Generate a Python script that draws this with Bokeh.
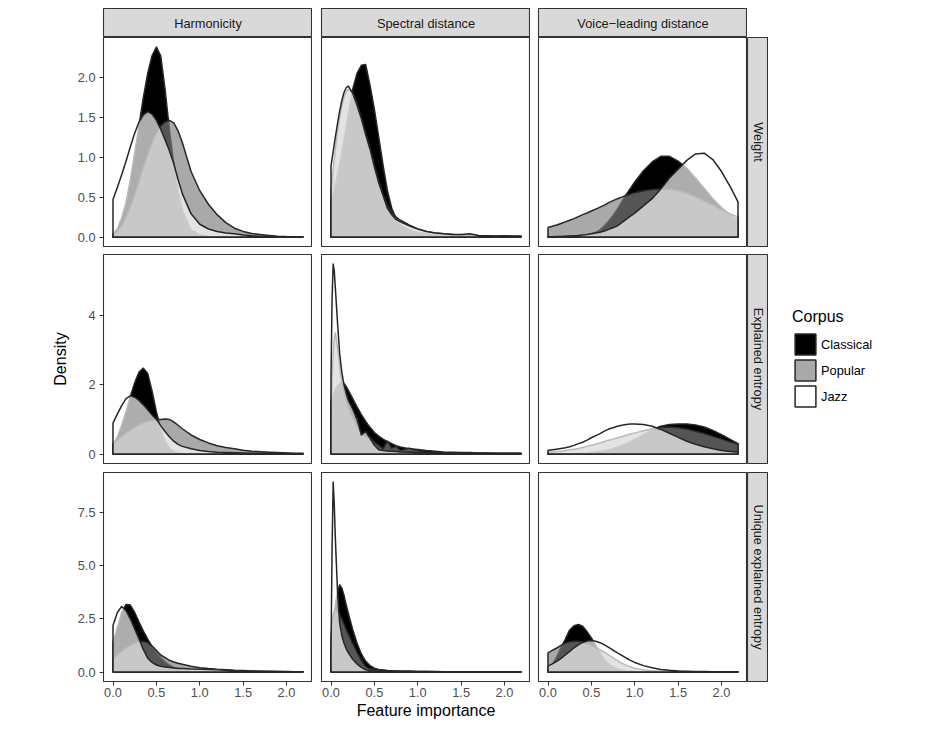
import math
from bokeh.plotting import figure
from bokeh.models import Range1d, FixedTicker, NumeralTickFormatter, Legend, LegendItem
from bokeh.layouts import row, column
from bokeh.embed import file_html
from bokeh.resources import INLINE
from bokeh.core.properties import value

# ---------------- data ----------------
COLUMN_LABELS = ["Harmonicity", "Spectral distance", "Voice\u2212leading distance"]
ROW_LABELS = ["Weight", "Explained entropy", "Unique explained entropy"]
CORPORA = ["Classical", "Popular", "Jazz"]
X_TICKS = [0.0, 0.5, 1.0, 1.5, 2.0]
Y_TICKS_WEIGHT = [0.0, 0.5, 1.0, 1.5, 2.0]
Y_TICKS_EXPLAINED = [0, 2, 4]
Y_TICKS_UNIQUE = [0.0, 2.5, 5.0, 7.5]
X_LABEL = "Feature importance"
Y_LABEL = "Density"
LEGEND_TITLE = "Corpus"

# evaluation grids (feature importance) for each column
X_HARM = [0.0, 0.05, 0.1, 0.15, 0.2, 0.25, 0.3, 0.35, 0.4, 0.45, 0.5, 0.55, 0.6, 0.65, 0.7, 0.75, 0.8,
          0.9, 1.0, 1.1, 1.2, 1.3, 1.4, 1.5, 1.6, 1.7, 1.8, 1.9, 2.0, 2.1, 2.19]
X_SPEC = [0.0, 0.0125, 0.025, 0.0375, 0.05, 0.075, 0.1, 0.125, 0.15, 0.175, 0.2,
          0.25, 0.3, 0.35, 0.4, 0.45, 0.5, 0.55, 0.6, 0.65, 0.7, 0.75, 0.8,
          0.9, 1.0, 1.1, 1.2, 1.3, 1.4, 1.5, 1.6, 1.7, 1.8, 1.9, 2.0, 2.1, 2.19]
X_VL = [0.0, 0.05, 0.1, 0.15, 0.2, 0.25, 0.3, 0.35, 0.4, 0.45, 0.5, 0.55, 0.6, 0.65, 0.7, 0.75, 0.8,
        0.85, 0.9, 0.95, 1.0, 1.1, 1.2, 1.3, 1.4, 1.5, 1.6, 1.7, 1.8, 1.9, 2.0, 2.1, 2.19]

# Weight row
HW_CLASSICAL = [0.04, 0.1, 0.24, 0.43, 0.72, 1.05, 1.4, 1.75, 2.05, 2.27, 2.38, 2.27, 1.85, 1.35, 0.93, 0.58, 0.34,
                0.09, 0.03, 0.01, 0.0, 0.0, 0.0, 0.0, 0.0, 0.0, 0.0, 0.0, 0.0, 0.0, 0.0]
HW_POPULAR = [0.03, 0.07, 0.14, 0.25, 0.38, 0.53, 0.7, 0.87, 1.03, 1.18, 1.3, 1.39, 1.44, 1.46, 1.43, 1.33, 1.18,
              0.82, 0.58, 0.41, 0.28, 0.18, 0.11, 0.07, 0.045, 0.03, 0.02, 0.01, 0.005, 0.003, 0.002]
HW_JAZZ = [0.47, 0.62, 0.78, 0.95, 1.13, 1.3, 1.44, 1.53, 1.57, 1.54, 1.46, 1.35, 1.22, 1.08, 0.92, 0.72, 0.54,
           0.29, 0.16, 0.1, 0.07, 0.05, 0.04, 0.025, 0.015, 0.01, 0.005, 0.0, 0.0, 0.0, 0.0]
SW_CLASSICAL = [0.45, 0.5, 0.55, 0.6, 0.66, 0.78, 0.92, 1.07, 1.22, 1.38, 1.55,
                1.85, 2.05, 2.15, 2.16, 1.9, 1.6, 1.25, 0.9, 0.58, 0.36, 0.23, 0.15,
                0.09, 0.06, 0.04, 0.03, 0.02, 0.02, 0.025, 0.03, 0.015, 0.01, 0.01, 0.015, 0.01, 0.01]
SW_POPULAR = [0.55, 0.7, 0.85, 0.98, 1.1, 1.32, 1.5, 1.64, 1.75, 1.82, 1.85,
              1.82, 1.68, 1.5, 1.3, 1.1, 0.9, 0.7, 0.53, 0.4, 0.31, 0.25, 0.21,
              0.15, 0.1, 0.07, 0.05, 0.04, 0.03, 0.02, 0.02, 0.015, 0.01, 0.01, 0.01, 0.005, 0.005]
SW_JAZZ = [0.89, 0.98, 1.07, 1.16, 1.25, 1.42, 1.58, 1.71, 1.81, 1.87, 1.89,
           1.8, 1.65, 1.48, 1.28, 1.1, 0.88, 0.68, 0.52, 0.36, 0.28, 0.22, 0.19,
           0.14, 0.1, 0.07, 0.05, 0.04, 0.03, 0.03, 0.04, 0.02, 0.015, 0.01, 0.01, 0.01, 0.01]
VW_CLASSICAL = [0.0, 0.0, 0.0, 0.003, 0.005, 0.007, 0.01, 0.013, 0.017, 0.025, 0.04, 0.06, 0.09, 0.14, 0.2, 0.27,
                0.35, 0.44, 0.53, 0.61, 0.69, 0.83, 0.94, 1.01, 1.01, 0.95, 0.86, 0.74, 0.61, 0.48, 0.37, 0.28, 0.21]
VW_POPULAR = [0.12, 0.135, 0.15, 0.17, 0.19, 0.21, 0.23, 0.255, 0.28, 0.3, 0.325, 0.35, 0.375, 0.4, 0.43, 0.455,
              0.48, 0.5, 0.52, 0.54, 0.555, 0.58, 0.595, 0.6, 0.595, 0.58, 0.55, 0.5, 0.45, 0.4, 0.34, 0.29, 0.25]
VW_JAZZ = [0.0, 0.003, 0.005, 0.007, 0.01, 0.013, 0.017, 0.02, 0.025, 0.03, 0.04, 0.05, 0.06, 0.075, 0.095, 0.115,
           0.14, 0.18, 0.22, 0.26, 0.3, 0.39, 0.48, 0.6, 0.74, 0.85, 0.96, 1.04, 1.05, 0.97, 0.82, 0.63, 0.44]

# Explained entropy row
HEE_CLASSICAL = [0.27, 0.49, 0.83, 1.22, 1.66, 2.06, 2.37, 2.48, 2.33, 1.82, 1.22, 0.72, 0.37, 0.17, 0.07, 0.03, 0.01,
                 0.0, 0.0, 0.0, 0.0, 0.0, 0.0, 0.0, 0.0, 0.0, 0.0, 0.0, 0.0, 0.0, 0.0]
HEE_POPULAR = [0.3, 0.4, 0.5, 0.6, 0.69, 0.77, 0.84, 0.9, 0.94, 0.97, 0.99, 1.0, 1.01, 1.0, 0.93, 0.83, 0.73,
               0.55, 0.42, 0.32, 0.24, 0.19, 0.15, 0.11, 0.08, 0.065, 0.05, 0.04, 0.03, 0.025, 0.02]
HEE_JAZZ = [0.89, 1.15, 1.4, 1.6, 1.68, 1.64, 1.55, 1.42, 1.28, 1.13, 1.0, 0.82, 0.65, 0.5, 0.37, 0.28, 0.22,
            0.15, 0.1, 0.07, 0.05, 0.04, 0.035, 0.03, 0.025, 0.02, 0.02, 0.015, 0.015, 0.01, 0.01]
SEE_CLASSICAL = [1.5, 1.6, 1.7, 1.78, 1.86, 1.97, 2.04, 2.06, 2.04, 1.95, 1.84,
                 1.6, 1.36, 1.14, 0.94, 0.77, 0.62, 0.52, 0.43, 0.36, 0.3, 0.24, 0.2,
                 0.15, 0.13, 0.1, 0.08, 0.06, 0.05, 0.04, 0.04, 0.03, 0.03, 0.02, 0.02, 0.02, 0.02]
SEE_POPULAR = [1.2, 2.2, 2.9, 3.35, 3.5, 3.1, 2.5, 2.1, 1.8, 1.55, 1.35,
               1.05, 0.8, 0.6, 0.5, 0.5, 0.35, 0.25, 0.15, 0.37, 0.17, 0.22, 0.1,
               0.17, 0.1, 0.05, 0.04, 0.03, 0.03, 0.02, 0.02, 0.02, 0.015, 0.01, 0.01, 0.01, 0.01]
SEE_JAZZ = [2.2, 4.5, 5.49, 5.3, 4.8, 3.8, 2.9, 2.35, 2.0, 1.75, 1.55,
            1.3, 1.0, 0.55, 0.65, 0.45, 0.25, 0.12, 0.1, 0.09, 0.08, 0.07, 0.06,
            0.05, 0.04, 0.04, 0.03, 0.03, 0.03, 0.02, 0.03, 0.02, 0.02, 0.02, 0.02, 0.02, 0.02]
VEE_CLASSICAL = [0.0, 0.0, 0.0, 0.005, 0.005, 0.01, 0.015, 0.02, 0.025, 0.03, 0.04, 0.055, 0.07, 0.095, 0.12, 0.16,
                 0.2, 0.25, 0.3, 0.36, 0.42, 0.56, 0.7, 0.8, 0.85, 0.87, 0.87, 0.84, 0.78, 0.68, 0.56, 0.42, 0.3]
VEE_POPULAR = [0.05, 0.06, 0.07, 0.08, 0.1, 0.12, 0.14, 0.16, 0.19, 0.22, 0.25, 0.28, 0.32, 0.36, 0.4, 0.43,
               0.47, 0.5, 0.54, 0.58, 0.61, 0.67, 0.73, 0.77, 0.78, 0.76, 0.72, 0.66, 0.59, 0.51, 0.43, 0.35, 0.29]
VEE_JAZZ = [0.1, 0.12, 0.14, 0.16, 0.18, 0.21, 0.25, 0.3, 0.34, 0.4, 0.47, 0.53, 0.59, 0.66, 0.72, 0.76,
            0.8, 0.83, 0.85, 0.865, 0.87, 0.85, 0.8, 0.71, 0.6, 0.48, 0.37, 0.28, 0.21, 0.15, 0.1, 0.07, 0.05]

# Unique explained entropy row
HUE_CLASSICAL = [1.4, 2.1, 2.8, 3.18, 3.15, 2.8, 2.35, 1.93, 1.55, 1.2, 0.92, 0.68, 0.48, 0.33, 0.22, 0.14, 0.09,
                 0.04, 0.02, 0.01, 0.0, 0.0, 0.0, 0.0, 0.0, 0.0, 0.0, 0.0, 0.0, 0.0, 0.0]
HUE_POPULAR = [0.62, 0.8, 0.97, 1.12, 1.25, 1.36, 1.43, 1.45, 1.38, 1.22, 1.02, 0.8, 0.68, 0.55, 0.47, 0.41, 0.36,
               0.27, 0.2, 0.16, 0.13, 0.11, 0.08, 0.07, 0.05, 0.04, 0.03, 0.02, 0.02, 0.01, 0.01]
HUE_JAZZ = [2.19, 2.8, 3.08, 2.88, 2.5, 2.02, 1.55, 1.05, 0.65, 0.45, 0.33, 0.27, 0.23, 0.21, 0.19, 0.17, 0.16,
            0.14, 0.13, 0.12, 0.1, 0.08, 0.06, 0.05, 0.04, 0.03, 0.02, 0.02, 0.01, 0.01, 0.01]
SUE_CLASSICAL = [1.0, 1.6, 2.2, 2.7, 3.15, 3.75, 4.1, 3.95, 3.6, 3.15, 2.75,
                 2.0, 1.35, 0.85, 0.5, 0.3, 0.18, 0.12, 0.09, 0.07, 0.06, 0.05, 0.04,
                 0.03, 0.02, 0.02, 0.015, 0.01, 0.01, 0.01, 0.01, 0.005, 0.005, 0.005, 0.005, 0.005, 0.005]
SUE_POPULAR = [1.6, 2.3, 2.7, 2.85, 2.9, 2.85, 2.72, 2.5, 2.25, 2.0, 1.78,
               1.35, 0.93, 0.55, 0.25, 0.15, 0.12, 0.1, 0.08, 0.06, 0.05, 0.045, 0.04,
               0.03, 0.025, 0.02, 0.02, 0.015, 0.01, 0.01, 0.01, 0.01, 0.01, 0.01, 0.01, 0.01, 0.01]
SUE_JAZZ = [1.0, 5.8, 8.94, 7.9, 6.3, 3.8, 2.3, 1.7, 1.35, 1.1, 0.9,
            0.6, 0.38, 0.22, 0.1, 0.06, 0.05, 0.04, 0.03, 0.03, 0.02, 0.02, 0.02,
            0.02, 0.01, 0.01, 0.01, 0.01, 0.01, 0.01, 0.01, 0.01, 0.01, 0.01, 0.01, 0.01, 0.01]
VUE_CLASSICAL = [0.15, 0.35, 0.7, 1.15, 1.55, 1.98, 2.18, 2.24, 2.15, 1.9, 1.6, 1.25, 0.9, 0.6, 0.38, 0.24,
                 0.15, 0.09, 0.05, 0.03, 0.02, 0.01, 0.0, 0.0, 0.0, 0.0, 0.0, 0.0, 0.0, 0.0, 0.0, 0.0, 0.0]
VUE_POPULAR = [0.9, 1.02, 1.13, 1.25, 1.36, 1.42, 1.45, 1.45, 1.41, 1.34, 1.25, 1.15, 1.04, 0.93, 0.8, 0.66,
               0.53, 0.42, 0.32, 0.24, 0.18, 0.1, 0.06, 0.04, 0.03, 0.02, 0.015, 0.01, 0.01, 0.005, 0.005, 0.0, 0.0]
VUE_JAZZ = [0.28, 0.38, 0.5, 0.64, 0.8, 0.97, 1.14, 1.28, 1.39, 1.46, 1.48, 1.45, 1.38, 1.28, 1.16, 1.03,
            0.9, 0.78, 0.66, 0.55, 0.45, 0.3, 0.2, 0.12, 0.08, 0.05, 0.035, 0.025, 0.02, 0.015, 0.01, 0.01, 0.01]

GRIDS = [X_HARM, X_SPEC, X_VL]
DATA = [
    [(HW_CLASSICAL, HW_POPULAR, HW_JAZZ), (SW_CLASSICAL, SW_POPULAR, SW_JAZZ), (VW_CLASSICAL, VW_POPULAR, VW_JAZZ)],
    [(HEE_CLASSICAL, HEE_POPULAR, HEE_JAZZ), (SEE_CLASSICAL, SEE_POPULAR, SEE_JAZZ), (VEE_CLASSICAL, VEE_POPULAR, VEE_JAZZ)],
    [(HUE_CLASSICAL, HUE_POPULAR, HUE_JAZZ), (SUE_CLASSICAL, SUE_POPULAR, SUE_JAZZ), (VUE_CLASSICAL, VUE_POPULAR, VUE_JAZZ)],
]
Y_TICKS = [Y_TICKS_WEIGHT, Y_TICKS_EXPLAINED, Y_TICKS_UNIQUE]
Y_FORMATS = ["0.0", "0", "0.0"]

# ---------------- style ----------------
FONT = "Liberation Sans"
FILLS = {"Classical": ("black", 1.0), "Popular": ("#7f7f7f", 0.67), "Jazz": ("white", 0.68)}
LINE = "#262626"
LW = 1.5
BORDER = "#333333"
STRIP_FILL = "#d9d9d9"
FRAME = 209
GAPS = [103, 9, 8]
ROW_BOTTOM = [8, 9, 42]
TOP_PAD = 8
STRIP_H = 29
STRIP_W = 21
SMALL = "12.8px"
BIG = "16px"

for r in range(3):
    for c in range(3):
        for ys in DATA[r][c]:
            assert len(ys) == len(GRIDS[c]), (r, c, len(ys), len(GRIDS[c]))

x_max = max(g[-1] for g in GRIDS)
x_min = min(g[0] for g in GRIDS)
x_pad = 0.05 * (x_max - x_min)


def style_axis(ax):
    ax.axis_line_color = None
    ax.major_tick_line_color = BORDER
    ax.major_tick_line_width = 1
    ax.major_tick_out = 4
    ax.major_tick_in = 0
    ax.minor_tick_line_color = None
    ax.major_label_text_font = FONT
    ax.major_label_text_font_size = SMALL
    ax.major_label_text_color = "#4d4d4d"
    ax.axis_label_text_font = FONT
    ax.axis_label_text_font_size = BIG
    ax.axis_label_text_font_style = "normal"
    ax.axis_label_text_color = "black"


def make_panel(r, c):
    grid = GRIDS[c]
    row_max = max(max(v) for trio in DATA[r] for v in trio)
    p = figure(frame_width=FRAME, frame_height=FRAME,
               x_range=Range1d(x_min - x_pad, x_max + x_pad),
               y_range=Range1d(-0.05 * row_max, 1.05 * row_max),
               x_axis_location="below" if r == 2 else None,
               y_axis_location="left" if c == 0 else None,
               min_border_left=GAPS[c], min_border_right=0, min_border_top=0,
               min_border_bottom=ROW_BOTTOM[r],
               toolbar_location=None, output_backend="svg",
               background_fill_color="white", border_fill_color="white",
               outline_line_color=BORDER, outline_line_width=1.1)
    p.grid.grid_line_color = None
    for name, ys in zip(CORPORA, DATA[r][c]):
        fc, fa = FILLS[name]
        p.patch(x=[grid[0]] + list(grid) + [grid[-1]], y=[0.0] + list(ys) + [0.0],
                fill_color=fc, fill_alpha=fa, line_color=LINE, line_width=LW, line_join="round")
    if r == 2:
        ax = p.xaxis[0]
        style_axis(ax)
        ax.ticker = FixedTicker(ticks=X_TICKS)
        ax.formatter = NumeralTickFormatter(format="0.0")
        ax.major_label_standoff = 2
        if c == 1:
            ax.axis_label = X_LABEL
            ax.axis_label_standoff = 2
    if c == 0:
        ay = p.yaxis[0]
        style_axis(ay)
        ay.ticker = FixedTicker(ticks=Y_TICKS[r])
        ay.formatter = NumeralTickFormatter(format=Y_FORMATS[r])
        ay.major_label_standoff = 4
        if r == 1:
            ay.axis_label = Y_LABEL
            ay.axis_label_standoff = 16
    return p


def top_strip(c):
    s = figure(frame_width=FRAME, frame_height=STRIP_H, x_range=Range1d(0, 1), y_range=Range1d(0, 1),
               x_axis_location=None, y_axis_location=None,
               min_border_left=GAPS[c], min_border_right=0, min_border_top=TOP_PAD, min_border_bottom=0,
               toolbar_location=None, output_backend="svg",
               background_fill_color=STRIP_FILL, border_fill_color="white",
               outline_line_color=BORDER, outline_line_width=1.1)
    s.grid.grid_line_color = None
    s.text(x=[0.5], y=[0.5], text=[COLUMN_LABELS[c]], text_align="center", text_baseline="middle",
           text_font=value(FONT), text_font_size=SMALL, text_color="#1a1a1a")
    return s


def right_strip(r):
    s = figure(frame_width=STRIP_W, frame_height=FRAME, x_range=Range1d(0, 1), y_range=Range1d(0, 1),
               x_axis_location=None, y_axis_location=None,
               min_border_left=0, min_border_right=0, min_border_top=0, min_border_bottom=ROW_BOTTOM[r],
               toolbar_location=None, output_backend="svg",
               background_fill_color=STRIP_FILL, border_fill_color="white",
               outline_line_color=BORDER, outline_line_width=1.1)
    s.grid.grid_line_color = None
    s.text(x=[0.5], y=[0.5], text=[ROW_LABELS[r]], text_align="center", text_baseline="middle",
           angle=-math.pi / 2, text_font=value(FONT), text_font_size=SMALL, text_color="#1a1a1a")
    return s


def legend_figure():
    h = FRAME + ROW_BOTTOM[1]
    lf = figure(frame_width=161, frame_height=h, x_range=Range1d(0, 1), y_range=Range1d(0, 1),
                x_axis_location=None, y_axis_location=None, min_border=0,
                toolbar_location=None, output_backend="svg",
                outline_line_color=None, background_fill_color="white", border_fill_color="white")
    lf.grid.grid_line_color = None
    items = []
    for i, name in enumerate(CORPORA):
        fc, fa = FILLS[name]
        # hidden proxy renderer (same styling as the panels) used only for the legend key
        rr = lf.patch(x=GRIDS[0], y=DATA[0][0][i], fill_color=fc, fill_alpha=fa,
                      line_color=LINE, line_width=LW, visible=False)
        items.append(LegendItem(label=name, renderers=[rr]))
    leg = Legend(items=items, location=(24, 63), title=LEGEND_TITLE,
                 title_text_font=FONT, title_text_font_size=BIG, title_text_font_style="normal",
                 title_text_color="black", title_standoff=5,
                 label_text_font=FONT, label_text_font_size=SMALL, label_text_color="black",
                 glyph_width=26, glyph_height=26, label_height=26, label_standoff=3, spacing=0,
                 padding=0, margin=0, border_line_color=None, background_fill_alpha=0.0,
                 inactive_fill_alpha=0.0)
    lf.add_layout(leg, "center")
    return lf


top = row([top_strip(c) for c in range(3)])
rows = [top]
for r in range(3):
    kids = [make_panel(r, c) for c in range(3)] + [right_strip(r)]
    if r == 1:
        kids.append(legend_figure())
    rows.append(row(kids))

layout = column(rows)
open("out.html", "w").write(file_html(layout, INLINE))
